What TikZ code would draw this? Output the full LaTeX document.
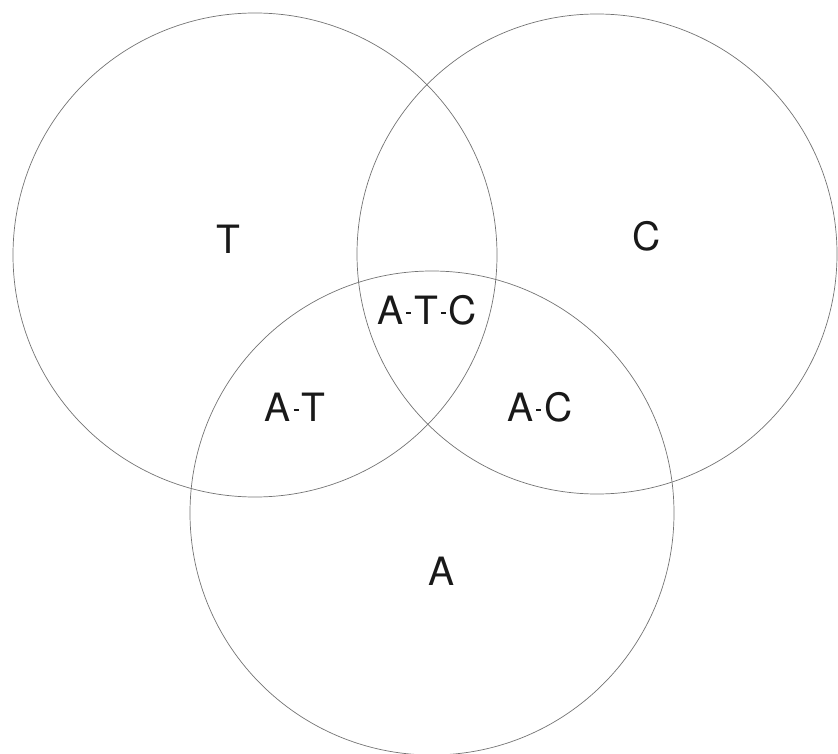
\documentclass[tikz,border=0pt]{standalone}
\usepackage{fontspec}
\setmainfont{TeX Gyre Heros}
\newcommand\hyph{\kern3pt\rule[10pt]{5pt}{2pt}\kern3pt}
\begin{document}
\begin{tikzpicture}[x=1pt,y=-1pt,
  ring/.style={draw=black!55,line width=0.7pt},
  lbl/.style={font=\fontsize{39}{44}\selectfont,text=black!90,inner sep=0pt}]
\useasboundingbox (0,0) rectangle (838,754);
\draw[ring] (255,255) circle (242);
\draw[ring] (597,254) circle (240);
\draw[ring] (432,513) circle (242);
\node[lbl] (t) at (228,239) {T};
\node[lbl] (c) at (647,236) {C};
\node[lbl] (atc) at (427,310) {A\hyph T\hyph C};
\node[lbl] (at) at (295,407) {A\hyph T};
\node[lbl] (ac) at (540,407) {A\hyph C};
\node[lbl] (a) at (442,571) {A};
\end{tikzpicture}
\end{document}
